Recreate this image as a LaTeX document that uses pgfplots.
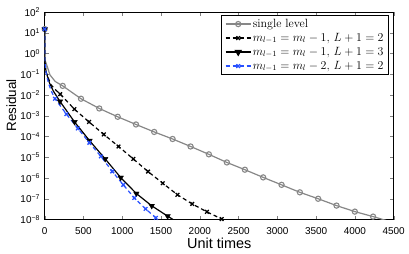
\documentclass[border=0pt]{standalone}
\usepackage{pgfplots}
\pgfplotsset{compat=1.18}
\usepackage{fontspec}
\newfontfamily\arial{Liberation Sans}
\definecolor{mgray}{RGB}{135,135,135}
\definecolor{mblue}{RGB}{40,80,255}
\begin{document}
\begin{tikzpicture}
\begin{axis}[
  name=ax,
  scale only axis, width=349bp, height=207.5bp,
  ymode=log, log basis y=10,
  xmin=0, xmax=4500, ymin=1e-8, ymax=1e2,
  xtick={0,500,...,4500},
  ytick={1e-8,1e-7,1e-6,1e-5,1e-4,1e-3,1e-2,1e-1,1,10,100},
  yticklabels={10\textsuperscript{\char"2212 8},10\textsuperscript{\char"2212 7},10\textsuperscript{\char"2212 6},10\textsuperscript{\char"2212 5},10\textsuperscript{\char"2212 4},10\textsuperscript{\char"2212 3},10\textsuperscript{\char"2212 2},10\textsuperscript{\char"2212 1},10\textsuperscript{0},10\textsuperscript{1},10\textsuperscript{2}},
  x tick label style={font=\arial\fontsize{10}{11}\selectfont, /pgf/number format/assume math mode=true, /pgf/number format/1000 sep={}, anchor=base, yshift=-14.5bp, inner sep=0pt},
  y tick label style={font=\arial\fontsize{10}{11}\selectfont, inner sep=0pt, xshift=-4.5bp},
  tick align=inside,
  major tick length=4bp, minor tick length=2bp,
  axis line style={line width=0.5bp},
  xlabel={Unit times}, ylabel={Residual},
  xlabel style={font=\arial\fontsize{14.5}{16}\selectfont, at={(axis description cs:0.5,-0.1388)}, anchor=base, inner sep=0pt},
  ylabel style={font=\arial\fontsize{13.5}{15}\selectfont, at={(axis description cs:-0.082,0.55)}, anchor=base, inner sep=0pt},
  legend style={at={(0.986,0.984)}, anchor=north east, font=\fontsize{12}{13}\selectfont, draw=black, line width=0.5bp, inner xsep=3.5bp, inner ysep=1.5bp, row sep=0pt, cells={anchor=west}, nodes={inner sep=1.5bp, text height=8.5bp, text depth=2.5bp}},
  legend image code/.code={\draw[mark repeat=2,mark phase=2,#1] plot coordinates {(0bp,0bp)(12.5bp,0bp)(25bp,0bp)};},
]
% single level
\addplot[mgray, line width=1.2bp, forget plot] coordinates {(0,15)(1,0.501)(17,0.355)(68,0.0933)(136,0.0447)(232,0.0275)(468,0.00661)(704,0.00224)(941,8.91e-4)(1177,3.80e-4)(1412,1.66e-4)(1649,7.59e-5)(1881,3.31e-5)(2117,1.38e-5)(2349,5.62e-6)(2581,2.51e-6)(2817,1.07e-6)(3054,4.68e-7)(3290,2.04e-7)(3526,1.0e-7)(3763,4.68e-8)(3999,2.40e-8)(4234,1.38e-8)(4470,7.59e-9)};
\addplot[mgray, only marks, mark=o, mark size=2.6bp, mark options={line width=1.1bp}, forget plot] coordinates {(0,15)(232,0.0275)(468,0.00661)(704,0.00224)(941,8.91e-4)(1177,3.80e-4)(1412,1.66e-4)(1649,7.59e-5)(1881,3.31e-5)(2117,1.38e-5)(2349,5.62e-6)(2581,2.51e-6)(2817,1.07e-6)(3054,4.68e-7)(3290,2.04e-7)(3526,1.0e-7)(3763,4.68e-8)(3999,2.40e-8)(4234,1.38e-8)};
% m-1, L+1=2
\addplot[black, line width=1.2bp, dash pattern=on 4bp off 3bp, forget plot] coordinates {(0,15)(1,0.5)(17,0.126)(80,0.0316)(140,0.0178)(200,0.011)(382,0.00209)(572,5.01e-4)(762,1.26e-4)(952,3.31e-5)(1142,8.32e-6)(1332,2.04e-6)(1522,5.62e-7)(1712,1.55e-7)(1902,5.62e-8)(2092,2.34e-8)(2282,1.05e-8)(2472,4.37e-9)};
\addplot[black, only marks, mark=x, mark size=2.6bp, mark options={solid, line width=1.3bp}, forget plot] coordinates {(0,15)(200,0.011)(382,0.00209)(572,5.01e-4)(762,1.26e-4)(952,3.31e-5)(1142,8.32e-6)(1332,2.04e-6)(1522,5.62e-7)(1712,1.55e-7)(1902,5.62e-8)(2092,2.34e-8)(2282,1.05e-8)};
% m-1, L+1=3
\addplot[black, line width=1.2bp, forget plot] coordinates {(0,15)(1,0.5)(17,0.135)(60,0.0398)(110,0.0158)(197,0.0049)(385,5.01e-4)(578,6.31e-5)(780,8.32e-6)(980,1.05e-6)(1182,1.78e-7)(1380,4.57e-8)(1585,1.45e-8)(1785,5.01e-9)};
\addplot[black, only marks, mark=triangle*, mark size=3.2bp, mark options={rotate=180}, forget plot] coordinates {(0,15)(197,0.0049)(385,5.01e-4)(578,6.31e-5)(780,8.32e-6)(980,1.05e-6)(1182,1.78e-7)(1380,4.57e-8)(1585,1.45e-8)};
% m-2, L+1=2
\addplot[mblue, line width=1.2bp, dash pattern=on 4bp off 3bp, forget plot] coordinates {(0,15)(1,0.5)(17,0.126)(50,0.0355)(90,0.0141)(133,0.00661)(280,0.0012)(427,2.45e-4)(576,5.01e-5)(725,1.10e-5)(871,2.09e-6)(1013,4.68e-7)(1155,1.10e-7)(1301,3.24e-8)(1434,1.20e-8)(1580,3.98e-9)};
\addplot[mblue, only marks, mark=x, mark size=2.6bp, mark options={solid, line width=1.3bp}, forget plot] coordinates {(0,15)(133,0.00661)(280,0.0012)(427,2.45e-4)(576,5.01e-5)(725,1.10e-5)(871,2.09e-6)(1013,4.68e-7)(1155,1.10e-7)(1301,3.24e-8)(1434,1.20e-8)};
\addlegendimage{mgray, line width=1.2bp, mark=o, mark size=2.6bp, mark options={line width=1.1bp}}
\addlegendentry{single level}
\addlegendimage{black, line width=1.2bp, dash pattern=on 4bp off 3bp, mark=x, mark size=2.6bp, mark options={solid, line width=1.3bp}}
\addlegendentry{$m_{l-1}=m_l-1$, $L+1=2$}
\addlegendimage{black, line width=1.2bp, mark=triangle*, mark size=3.2bp, mark options={rotate=180}}
\addlegendentry{$m_{l-1}=m_l-1$, $L+1=3$}
\addlegendimage{mblue, line width=1.2bp, dash pattern=on 4bp off 3bp, mark=x, mark size=2.6bp, mark options={solid, line width=1.3bp}}
\addlegendentry{$m_{l-1}=m_l-2$, $L+1=2$}
\end{axis}
\pgfresetboundingbox
\path[use as bounding box] ([shift={(-44.7bp,-34.5bp)}]ax.south west) rectangle ([shift={(15.3bp,12bp)}]ax.north east);
\end{tikzpicture}
\end{document}
